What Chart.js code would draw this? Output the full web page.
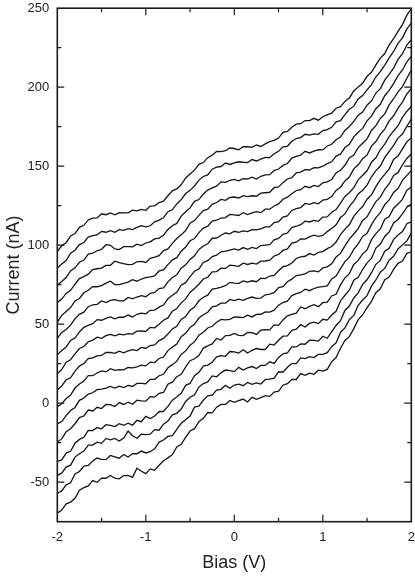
<!DOCTYPE html>
<html>
<head>
<meta charset="utf-8">
<script src="https://cdn.jsdelivr.net/npm/chart.js@4/dist/chart.umd.min.js"></script>
<style>
html,body{margin:0;padding:0;background:#fff;}
#wrap{width:415px;height:576px;}
</style>
</head>
<body>
<div id="wrap"><canvas id="c" width="415" height="576"></canvas></div>
<script>
// Bias (V) sample points
const bias = [-2,-1.95,-1.9,-1.85,-1.8,-1.75,-1.7,-1.65,-1.6,-1.55,-1.5,-1.45,-1.4,-1.35,-1.3,-1.25,-1.2,-1.15,-1.1,-1.05,-1,-0.95,-0.9,-0.85,-0.8,-0.75,-0.7,-0.65,-0.6,-0.55,-0.5,-0.45,-0.4,-0.35,-0.3,-0.25,-0.2,-0.15,-0.1,-0.05,0,0.05,0.1,0.15,0.2,0.25,0.3,0.35,0.4,0.45,0.5,0.55,0.6,0.65,0.7,0.75,0.8,0.85,0.9,0.95,1,1.05,1.1,1.15,1.2,1.25,1.3,1.35,1.4,1.45,1.5,1.55,1.6,1.65,1.7,1.75,1.8,1.85,1.9,1.95,2];

// Current (nA) traces, top to bottom
const trace01 = [96,99.6,101.6,105.8,107.4,111.3,112.6,116,117.1,117.3,119.9,119.3,120.4,119.2,120.6,120.5,120.5,122.2,121.7,122.7,122.1,124.8,124.9,127,127.9,131.3,134.4,135.6,138.2,142.6,145.1,147.5,151.2,152.3,155.4,157,159.3,159.2,159.9,161.5,161.2,160.4,162.3,162.3,161.9,163.5,162.5,164.1,165.5,166.3,167.8,171.4,172,174.7,176.6,176.9,178.9,178.9,180.3,179.1,181.3,182.5,183.6,186.7,187.7,191,193.2,197.6,200.2,202.5,206.9,209.4,214.1,218.4,221.3,226.8,230.8,235.3,239.6,245.6,249.5];
const trace02 = [85.5,88.1,90.3,94.9,96.8,100.4,101.7,105.1,106,106.5,108.7,108.2,109.2,108.1,109.8,109.4,110.5,109.9,111.3,112.4,111.6,112.3,114.8,115.9,117.4,121.2,122.4,126.1,128.8,132.7,134.7,137.5,141.2,143.5,144.5,148.1,149.4,149.8,152,151.1,152.1,152.8,152.5,152.3,154.2,153.3,154.5,155.6,155.4,157.9,159.4,162.3,162.6,165.8,167.5,168.1,170.2,169.7,170.5,170.2,172.6,173.2,174.6,178.1,178.8,182.6,186,188,192.6,194.7,198.3,201.6,206.6,209.9,214,218.6,222.6,227.7,231.2,236.9,240.6];
const trace03 = [74.6,77,79.5,83.7,85.7,89.2,90.6,94.3,94.9,96.5,97.4,100.3,99.9,97.6,97.2,99.1,99.1,99,100.7,99.8,101.4,102.1,104,104.5,106.3,110,112.3,113.8,118.4,121.2,123.6,127.8,128.9,132.4,134.9,136.3,137.4,140.1,139.8,141.1,141.6,140.7,142.1,141.9,143.1,141.9,143.6,144.5,144.6,147.2,148.2,150.5,151.7,155.1,156.2,157,159.4,158.4,159.6,160.4,160.3,162.8,163.9,166.7,168.4,172.6,175.1,178.4,182.2,184.3,188.6,191.3,196.3,199.1,204.5,208.1,212.1,217.6,221.2,226.6,230.1];
const trace04 = [63.8,65.9,69.5,71.4,75.3,78.9,80.1,81.7,84.6,85.1,85.5,87.2,87.3,89.9,89,88.3,87.7,87.9,89.5,89.7,89.1,91.7,92.5,93.4,96.6,97.7,101.2,104.2,106.6,109.2,113.9,115.6,118.9,121.9,122.8,125.9,127,129,128.4,130.2,130.5,129.9,131.4,130.7,131.3,131,132.9,133.2,133.5,136.4,136.9,139.6,141.9,142.8,145.8,146.3,147.8,147.6,149.1,148.9,150,151.6,152.8,156.4,157.6,161.8,163.9,168.6,171.5,173.9,178.7,181.7,186.4,189.2,194.6,198,202.3,207.3,210.9,216,219.5];
const trace05 = [51.2,55.6,58.1,60.5,64.7,66.3,69.9,71.5,73.8,73.7,74.4,76,77.2,75.1,75.1,75.8,76.6,78.2,77.2,78.6,79.5,79.9,80.5,83.7,84.4,87.7,90.7,92.1,96.2,98.8,102.8,104.2,108,110.8,112,115.2,115.8,117.2,117.5,119.5,119.2,118.8,120.6,119.4,120.4,121.2,120.6,122.8,122.8,124.8,126.1,129.1,130.4,132.5,134.6,135.1,137.3,136.4,137.8,137.1,139.5,140.1,141.6,145.7,147.4,150.6,155.2,157,161.8,164.5,167.3,172.6,175.7,180.2,183.1,188.8,192.7,197,200.4,205.7,210.8];
const trace06 = [41,44.8,46.7,49.4,53.5,56.2,57.6,61.1,62.3,62.6,64.7,63.7,65.1,65.5,64.8,64.8,66.9,66,67.2,68.1,67.4,69.5,70.1,72.6,73,76.8,79.6,81.3,85.5,87.6,91,93.3,97.3,99.5,100.9,104.4,104.5,106.3,107.7,107.2,108.8,108.1,109,108.6,109.9,109.7,110.3,111.6,111.6,114.3,114.9,117.8,118.6,122,123.1,123.8,126.4,125.8,126.9,126.2,128.6,129,130.8,134.7,136.7,140.7,143.1,148.3,150.9,154.8,157,162.7,165.6,170.1,173.5,178.7,181.9,186.7,190.6,195.8,199];
const trace07 = [30.6,33.3,35.6,39.7,41.2,45.1,48,49.3,50.3,52.9,52.5,53.7,54.6,53.4,54.4,54.4,55.8,54.6,56.3,57,56.6,58.8,58.9,60.8,62.1,66.1,68.3,70.2,74.7,76.3,80.1,83.5,85,89.1,90.2,92.8,93.7,95.8,96.2,96.9,97.6,96.9,98.5,97.4,98.6,97.9,99.8,100.1,100.3,103.4,104.3,106.9,107.7,111.1,112,113,115.2,114.7,115.7,115.1,117.8,117.9,120.9,122.6,126.7,130.9,133.2,136.4,141.4,144.3,147.1,152.5,155.3,160.4,164,168.8,172.3,175.6,180.9,184.8,187.9];
const trace08 = [18.8,21.3,25.9,27.5,31.2,34.6,35.9,38.9,39.9,41.8,41.1,42.8,43.5,42.6,43.7,43.2,44,43.7,45.6,45.7,45.5,48,47.7,50,52.5,54,58.2,59.9,63.5,66,70.1,72.6,75.3,78.6,79.7,83.1,83.3,85.4,85.3,87.4,87.1,86.6,88.6,87.8,88.7,88,89.9,90,90.5,93.2,94.2,96.7,97.6,101.3,101.9,104,103.9,105.3,106.4,105.6,106.2,108.6,110.6,112.9,117.5,119.8,124.6,127.9,132.4,134.8,138,143.3,147.2,150.1,155.6,159.3,163.2,167.8,170.4,175.3,179.8];
const trace09 = [8.4,10.9,14.8,16.1,20.3,23.5,25.1,28.2,28.7,30,30.2,32.1,32.2,31.5,32.9,31.9,33.1,33.9,33.3,35.3,34.8,36.5,36.9,39.6,41,43.8,47,48.7,53,54.8,58.8,60.8,64.8,67.1,68.4,72.2,72.7,73.5,74.4,76.5,76,75.8,77.4,76.7,77.5,76.9,79.1,78.9,80.5,80.9,83.8,86.4,87.1,88.7,91.6,92.6,93,94.7,93.8,95.4,96,97.8,99.2,102,106.7,110.2,112.9,118.2,121.7,124.5,129.1,131.9,137.1,141.5,144.8,148.3,154.3,156.4,161,165.4,168.1];
const trace10 = [-2.3,-0.3,3,5.2,9.6,12.2,14,17.4,17.4,19.1,20.4,19.8,21.8,20.8,21.3,21.1,22.6,22.4,23,24.1,23.6,26,25.7,28.3,29.2,33.3,35.5,37.4,42.1,44.2,47.9,49.9,53.9,56,57.6,61,61.6,63.3,63.3,65.7,64.9,65.8,65.1,66.3,67.2,66.4,66.5,68.6,69.1,70,73.2,73.8,76.9,78.5,80.8,81.2,81.9,83.5,83.7,83.1,85.6,86.3,88.2,92.5,94.8,99.6,103.9,107.1,110.5,115.7,117.9,122.9,127.6,130.4,135.4,138.9,144.2,145.9,150.9,154.9,157.8];
const trace11 = [-13.1,-11.6,-7.9,-4.6,-2.7,1.8,3.3,5.8,6.6,8.6,8.9,9.5,10.6,9.6,10.8,9.9,11.3,10.6,12.5,12.6,12.3,15.1,15.1,17.4,18.3,22.4,24.4,26.6,30.9,33.1,36.7,38.8,43.1,44.9,47.6,48.7,51.2,53,52.8,53.1,54.6,54.4,54.2,55.7,54.6,56.2,56.3,57.8,57.7,58.9,62,63.7,64.6,68.1,69.3,70.1,72.2,71.2,72.6,73.5,73.8,74.3,78.6,80.5,85.2,89.6,92.4,97.4,100.9,105.5,107.5,113,117.5,120.6,125.7,128.7,133.4,135.9,141,144.2,147.2];
const trace12 = [-24.6,-22.6,-18.1,-16.2,-13,-9.1,-8.1,-4.3,-4.9,-2.6,-3.4,-0.8,-0.9,-2.1,0.4,-0.8,0.6,-0.7,1.9,1.5,1.3,4.2,3.9,6.3,6.8,12,13.3,16.8,18.3,22.8,26.9,28.1,30.1,34.9,36.3,37.5,41,40,42.8,42.9,44.2,42.9,42.8,44.8,44.6,43.5,46.2,46.5,46.4,49.6,49.3,52.7,55.3,56.2,57,60.9,59.8,61.3,62.4,61.1,63.6,63.9,67.9,68.9,74.9,79.3,82,87.8,90.4,94.5,97,103.5,107.3,110.3,116.4,118.1,123.4,126.1,129,134.8,136.8];
const trace13 = [-36.8,-35.9,-31.6,-30.4,-25.3,-22.9,-21.6,-17.2,-17.3,-15.4,-16.2,-13.6,-14,-14.8,-13,-14,-12.7,-13.9,-10.8,-11.7,-8.3,-9.7,-8.1,-5.4,-5.1,-2,1.9,3.9,6.3,11.3,12.5,17.4,19.5,23.5,24.1,25.9,29.3,30.1,29.7,32.7,32.5,31.7,33.8,31.8,33.5,34.6,34,34,37.4,36.8,39.8,42.4,42.6,46.1,46.9,49.7,48.2,50.5,51.3,50.4,53.1,52.6,55.8,58.2,64.7,68.3,71.5,77.8,79.7,84.6,88.8,91.6,98.2,100.7,105.5,108.4,114.1,116.3,119.8,124.1,126];
const trace14 = [-45.7,-44.3,-40.4,-39.2,-34.1,-32,-30.3,-26.5,-26.5,-24.7,-25.4,-22.3,-23.2,-22.3,-23.9,-22.1,-17.7,-20.6,-22.2,-19.6,-19.9,-19.6,-16.7,-17.1,-13.3,-11.3,-7.4,-6.4,-3.7,1.1,3.8,5.3,10.2,12.4,13.5,17.3,16.7,19.2,21,20.6,20,22.7,21,22.3,23.2,21.9,23.9,23.9,26.2,25.2,29,31.3,31.9,35.6,35.6,37.5,37.3,39.9,39.8,39.3,42.4,41.1,45.1,49.2,52.2,58.7,61.5,66.6,69.8,75.2,78.1,82.6,87.9,90.4,96.2,98.1,103.7,106.5,108.6,113.6,114.8];
const trace15 = [-57,-55.5,-51.7,-50.4,-44.8,-43.2,-39.8,-39.4,-36.6,-34.7,-35.6,-35.7,-33.1,-33.9,-34.8,-32.5,-34.1,-31.9,-32,-30.3,-31.5,-30.7,-28.9,-24.6,-23.3,-21,-20.5,-16.5,-12.7,-10.5,-8.1,-2.5,-1.9,1.9,4.7,5.1,8.3,8.8,11.3,9.5,11.5,12.1,11.1,13.1,11.9,12.8,12.1,14.9,15.3,15.8,19.9,19.6,22.7,25.1,25,28.7,28.2,29.5,28.9,30.9,30.9,32,35.8,38.2,44.8,47.7,52.9,55.6,62,65.3,68.1,74.1,78,82.9,85.3,90.5,93,97.6,100.2,102.7,107.6];
const trace16 = [-69.6,-67.6,-63.7,-62.6,-60.2,-55.1,-53.4,-52.3,-49,-50.1,-47.4,-47.5,-45.8,-47.5,-47.9,-45.8,-45.7,-46.9,-41.1,-43.1,-44.6,-41.6,-42.5,-39.3,-36.4,-34.6,-32.5,-27.7,-26,-21.6,-17.6,-16.1,-11.7,-9.6,-5.9,-6.1,-2.5,-0.8,-0.8,1.7,0.6,1.6,2.6,0.8,3.7,2.5,3.5,4.8,4.3,7,7.6,11.4,12.4,15.1,15,18.7,17.6,19,18.3,20.9,20.3,21.4,26.2,28.9,34.8,39.7,42.1,47.2,52.9,55.9,60.5,64.5,69.9,72.4,78.1,79.8,84.7,88.5,90,94.8,95.7];

// Axis settings
const xRange = [-2, 2];
const yRange = [-75, 250];
const xTitle = 'Bias (V)';
const yTitle = 'Current (nA)';

const traces = [trace01,trace02,trace03,trace04,trace05,trace06,trace07,trace08,trace09,trace10,trace11,trace12,trace13,trace14,trace15,trace16];

const datasets = traces.map((t, k) => ({
  label: 'trace ' + (k + 1),
  data: bias.map((b, i) => ({x: b, y: t[i]})),
  borderColor: '#141414',
  borderWidth: 1.3,
  pointRadius: 0,
  tension: 0,
  fill: false
}));

const frameTicks = {
  id: 'frameTicks',
  afterDatasetsDraw(chart) {
    const {ctx, chartArea: a, scales: {x, y}} = chart;
    ctx.save();
    ctx.strokeStyle = '#1a1a1a';
    ctx.lineWidth = 1.2;
    ctx.beginPath();
    x.ticks.forEach(t => {
      const px = x.getPixelForValue(t.value);
      if (px <= a.left + 1 || px >= a.right - 1) return;
      const len = Number.isInteger(t.value) ? 7 : 4;
      ctx.moveTo(px, a.bottom); ctx.lineTo(px, a.bottom - len);
      ctx.moveTo(px, a.top); ctx.lineTo(px, a.top + len);
    });
    y.ticks.forEach(t => {
      const py = y.getPixelForValue(t.value);
      if (py <= a.top + 1 || py >= a.bottom - 1) return;
      const len = (t.value % 50 === 0) ? 7 : 4;
      ctx.moveTo(a.left, py); ctx.lineTo(a.left + len, py);
      ctx.moveTo(a.right, py); ctx.lineTo(a.right - len, py);
    });
    ctx.stroke();
    ctx.lineWidth = 1.6;
    ctx.strokeRect(a.left, a.top, a.right - a.left, a.bottom - a.top);
    ctx.restore();
  }
};

const tickFont = {family: '"Liberation Sans", Arial, Helvetica, sans-serif', size: 13};
const titleFont = {family: '"Liberation Sans", Arial, Helvetica, sans-serif', size: 18};

new Chart(document.getElementById('c'), {
  type: 'line',
  data: {datasets},
  options: {
    responsive: false,
    devicePixelRatio: 1,
    animation: false,
    events: [],
    layout: {padding: {left: 0, right: 3.7, top: 8.2, bottom: 0}},
    plugins: {legend: {display: false}, tooltip: {enabled: false}},
    scales: {
      x: {
        type: 'linear',
        min: xRange[0], max: xRange[1],
        grid: {display: false, drawTicks: false},
        border: {display: false},
        ticks: {
          stepSize: 0.5, autoSkip: false, maxRotation: 0, padding: 8,
          color: '#222', font: tickFont,
          callback: v => Number.isInteger(v) ? String(v) : ''
        },
        title: {display: true, text: xTitle, color: '#222', font: titleFont, padding: {top: 0, bottom: 2}},
        afterFit: s => { s.height = 54.3; s.paddingLeft = 0; s.paddingRight = 0; }
      },
      y: {
        type: 'linear',
        min: yRange[0], max: yRange[1],
        grid: {display: false, drawTicks: false},
        border: {display: false},
        ticks: {
          stepSize: 25, autoSkip: false, padding: 8,
          color: '#222', font: tickFont,
          callback: v => (v % 50 === 0) ? String(v) : ''
        },
        title: {display: true, text: yTitle, color: '#222', font: titleFont, padding: {top: 3, bottom: 0}},
        afterFit: s => { s.width = 57.3; s.paddingTop = 0; s.paddingBottom = 0; }
      }
    }
  },
  plugins: [frameTicks]
});
</script>
</body>
</html>
